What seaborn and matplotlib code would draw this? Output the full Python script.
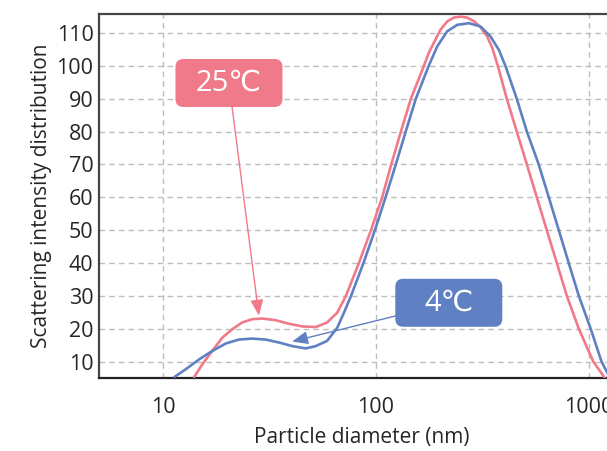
import pandas as pd
import matplotlib
matplotlib.use("Agg")
import matplotlib.pyplot as plt
from matplotlib.patches import FancyBboxPatch
from matplotlib.transforms import IdentityTransform
import seaborn as sns

# Scattering intensity distribution vs particle diameter (nm)
d_25 = [14.0, 15.3, 17.0, 19.0, 21.1, 23.5, 26.2, 29.2, 33.8, 39.1, 45.1, 52.1,
        59.0, 65.8, 72.3, 83.2, 94.8, 107, 118, 131, 146, 168, 177, 187, 201,
        216, 232, 250, 268, 289, 310, 333, 352, 374, 412, 459, 512, 570, 635,
        708, 789, 898, 1050, 1190]
i_25 = [5.3, 9.2, 13.2, 17.3, 19.8, 21.9, 22.9, 23.1, 22.6, 21.5, 20.7, 20.5,
        21.9, 24.9, 30, 40, 50, 60, 70, 80, 90, 100, 103.9, 107, 111, 113.5,
        114.7, 115.0, 114.7, 113.6, 111.8, 109, 105.5, 100, 90, 80, 70, 60,
        50, 40, 30, 20, 10, 5]

d_4 = [11.3, 12.8, 14.8, 17.0, 19.7, 22.7, 26.2, 30.3, 35.1, 40.5, 46.8, 52.1,
       59.0, 65.8, 70.8, 76.4, 87.4, 98.9, 111, 124, 138, 154, 177, 194, 216,
       241, 274, 310, 345, 378, 406, 459, 512, 582, 649, 723, 805, 898, 1021,
       1148, 1260]
i_4 = [5.3, 7.7, 10.7, 13.2, 15.5, 16.7, 17.0, 16.7, 15.8, 14.7, 14.0, 14.7,
       16.3, 20.3, 24.9, 30, 40, 50, 60, 70, 80, 90, 100, 105.9, 110.5, 112.5,
       113.0, 112.0, 109, 104.9, 100, 90, 80, 70, 60, 50, 40, 30, 20, 10, 5]

labels = ["25℃", "4℃"]
x_ticks = [10, 100, 1000]
y_ticks = [10, 20, 30, 40, 50, 60, 70, 80, 90, 100, 110]

pink = "#F07A8A"
blue = "#5F80C2"
ink = "#262626"

sns.set_theme(style="white")
plt.rcParams["font.family"] = ["Open Sans", "DejaVu Sans"]

W, H = 607, 451
fig = plt.figure(figsize=(W / 100, H / 100), dpi=100)
# the plot area runs past the right edge of the canvas
ax = fig.add_axes([99 / W, 73 / H, 526 / W, 364 / H])

sns.lineplot(x=d_25, y=i_25, sort=False, color=pink, linewidth=1.9, ax=ax, zorder=3)
sns.lineplot(x=d_4, y=i_4, sort=False, color=blue, linewidth=1.9, ax=ax, zorder=3)

ax.set_xscale("log")
ax.set_xlim(5, 1480)
ax.set_ylim(5, 115.8)
ax.set_xticks(x_ticks)
ax.set_xticklabels([str(t) for t in x_ticks])
ax.set_yticks(y_ticks)
ax.xaxis.set_minor_locator(matplotlib.ticker.NullLocator())
ax.tick_params(axis="both", length=0, labelsize=15.5, colors=ink)
ax.tick_params(axis="x", pad=14)
ax.tick_params(axis="y", pad=4)
for lab in ax.get_xticklabels() + ax.get_yticklabels():
    lab.set_fontweight("medium")
ax.grid(True, which="major", linestyle=(0, (4, 3)), color="#BDBDBD", linewidth=1.0)

for side in ["left", "bottom", "top"]:
    ax.spines[side].set_color("#444444")
    ax.spines[side].set_linewidth(1.6)
ax.spines["bottom"].set_color("#222222")
ax.spines["right"].set_visible(False)

ax.set_xlabel("Particle diameter (nm)", fontsize=15, color=ink, labelpad=6,
              fontweight="medium")
ax.set_ylabel("Scattering intensity distribution", fontsize=15, color=ink, labelpad=3,
              fontweight="medium")

# callout boxes: fixed-size rounded labels with arrows to each curve
callouts = [
    (labels[0], (20.4, 94.8), (28.2, 24.0), pink),
    (labels[1], (220, 27.9), (40.4, 16.1), blue),
]
box_w, box_h = 107, 48
for text, center, target, color in callouts:
    ax.annotate("", xy=target, xytext=center,
                arrowprops=dict(arrowstyle="-|>,head_length=0.8,head_width=0.33",
                                color=color, lw=1.0, shrinkA=0, shrinkB=0),
                zorder=4)
    cx, cy = ax.transData.transform(center)
    box = FancyBboxPatch((cx - box_w / 2, cy - box_h / 2), box_w, box_h,
                         boxstyle="round,pad=0,rounding_size=8",
                         fc=color, ec="none", transform=IdentityTransform(),
                         zorder=5)
    ax.add_patch(box)
    ax.text(center[0], center[1], text, ha="center", va="center",
            fontsize=21, color="white", zorder=6)

fig.savefig("out.png", dpi=100)
